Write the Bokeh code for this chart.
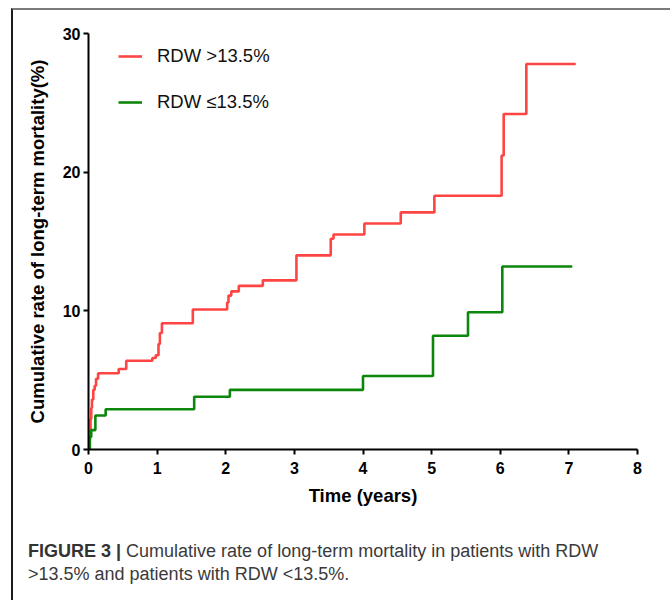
from bokeh.plotting import figure
from bokeh.models import Legend, LegendItem, FixedTicker, Range1d, Div
from bokeh.layouts import column
from bokeh.embed import file_html
from bokeh.resources import INLINE

# ---- data ----
red_t = [0.00, 0.01, 0.02, 0.03, 0.04, 0.05, 0.07, 0.09, 0.11, 0.14, 0.44, 0.55, 0.93, 0.98, 1.02,
         1.04, 1.07, 1.52, 2.02, 2.04, 2.08, 2.19, 2.54, 3.03, 3.53, 3.57, 4.02, 4.55, 5.04, 6.02,
         6.05, 6.38, 7.10]
red_v = [0.0, 0.7, 1.4, 2.2, 3.0, 3.6, 4.3, 4.6, 5.1, 5.5, 5.8, 6.4, 6.6, 6.8, 7.6,
         8.4, 9.1, 10.1, 10.6, 11.1, 11.4, 11.8, 12.2, 14.0, 15.2, 15.5, 16.3, 17.1, 18.3, 21.2,
         24.2, 27.8, 27.8]

green_t = [0.00, 0.02, 0.04, 0.10, 0.25, 1.54, 2.06, 4.00, 5.02, 5.53, 6.03, 7.05]
green_v = [0.0, 0.9, 1.4, 2.45, 2.9, 3.8, 4.3, 5.3, 8.2, 9.9, 13.2, 13.2]

x_ticks = [0, 1, 2, 3, 4, 5, 6, 7, 8]
y_ticks = [0, 10, 20, 30]

series_labels = ["RDW >13.5%", "RDW \u226413.5%"]
x_label = "Time (years)"
y_label = "Cumulative rate of long-term mortality(%)"
caption_bold = "FIGURE 3 |"
caption_line1 = "Cumulative rate of long-term mortality in patients with RDW"
caption_line2 = "&gt;13.5% and patients with RDW &lt;13.5%."

RED = "#ff4444"
GREEN = "#0c870c"
FONT = "Liberation Sans"

p = figure(width=654, height=510, output_backend="svg", toolbar_location=None,
           x_range=Range1d(0, 8), y_range=Range1d(0, 30),
           min_border_left=75, min_border_top=23, min_border_right=30, min_border_bottom=71)
p.outline_line_color = None
p.grid.visible = False
p.background_fill_color = "white"
p.border_fill_color = "white"

r_red = p.step(red_t, red_v, mode="after", line_color=RED, line_width=2.6)
r_green = p.step(green_t, green_v, mode="after", line_color=GREEN, line_width=2.6)

for ax in (p.xaxis[0], p.yaxis[0]):
    ax.axis_line_width = 2
    ax.axis_line_color = "black"
    ax.major_tick_line_width = 2
    ax.major_tick_line_color = "black"
    ax.major_tick_out = 5
    ax.major_tick_in = 0
    ax.minor_tick_line_color = None
    ax.major_label_text_font = FONT
    ax.major_label_text_font_style = "bold"
    ax.major_label_text_font_size = "16px"
    ax.major_label_text_color = "black"
    ax.axis_label_text_font = FONT
    ax.axis_label_text_font_style = "bold"
    ax.axis_label_text_font_size = "18.5px"
    ax.axis_label_text_color = "black"

p.xaxis.ticker = FixedTicker(ticks=x_ticks)
p.yaxis.ticker = FixedTicker(ticks=y_ticks)
p.xaxis.axis_label = x_label
p.yaxis.axis_label = y_label
p.xaxis.major_label_standoff = 7
p.yaxis.major_label_standoff = 3
p.xaxis.axis_label_standoff = 8
p.yaxis.axis_label_standoff = 12

legend = Legend(items=[LegendItem(label=series_labels[0], renderers=[r_red]),
                       LegendItem(label=series_labels[1], renderers=[r_green])],
                location=(30, 335), orientation="vertical",
                padding=0, margin=0, spacing=22,
                glyph_width=24, glyph_height=24, label_height=24, label_standoff=15,
                label_text_font=FONT, label_text_font_size="18.5px", label_text_color="#111111",
                border_line_color=None, background_fill_alpha=0)
p.add_layout(legend)

caption = Div(
    text=(f'<span style="font-weight:bold;color:#333333">{caption_bold}</span> '
          f'{caption_line1}<br>{caption_line2}'),
    width=650, height=80,
    styles={"font-family": "'Liberation Sans', Arial, sans-serif", "font-size": "18px",
            "line-height": "23px", "color": "#3a3a3a", "padding-top": "15px",
            "padding-left": "10px", "box-sizing": "border-box"})

layout = column(p, caption, spacing=0,
                styles={"margin-left": "11px", "margin-top": "8px",
                        "border-left": "2px solid #1c1c1c",
                        "border-top": "2px solid #7a7a7a",
                        "border-right": "2px solid #8a8a8a"})

open("out.html", "w").write(file_html(layout, INLINE))
